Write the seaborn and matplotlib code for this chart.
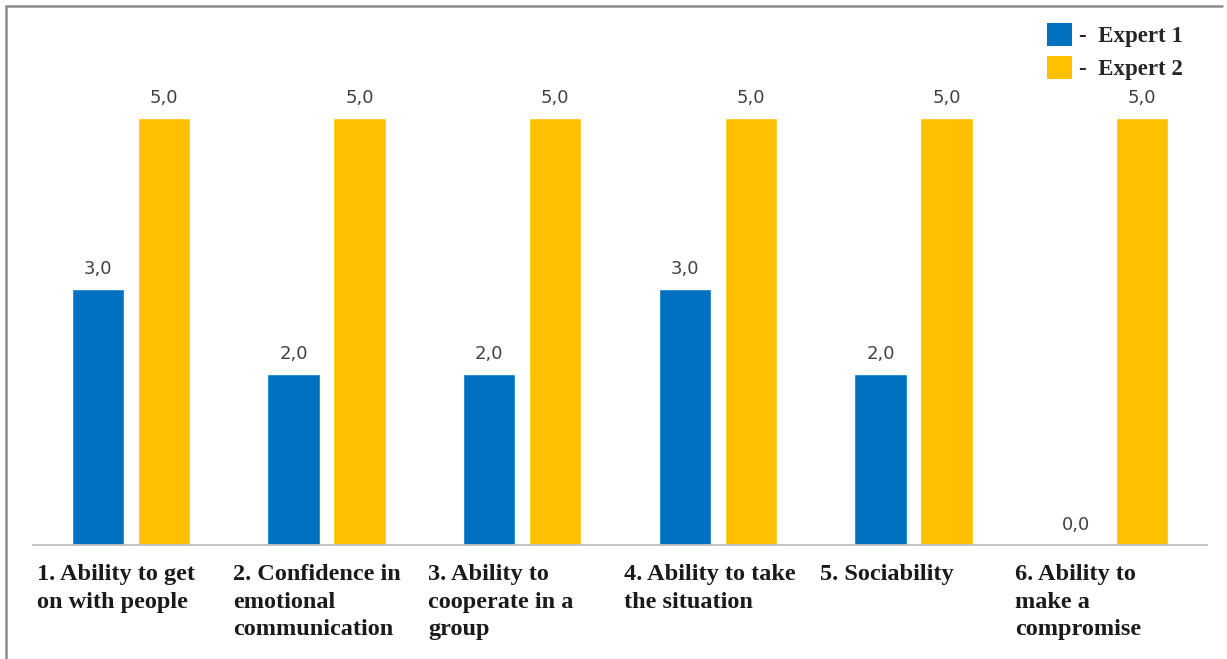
import pandas as pd
import matplotlib.pyplot as plt
from matplotlib.patches import Patch
from matplotlib.lines import Line2D
import seaborn as sns

sns.set_style("white")

# data
categories = ["1. Ability to get\non with people",
              "2. Confidence in\nemotional\ncommunication",
              "3. Ability to\ncooperate in a\ngroup",
              "4. Ability to take\nthe situation",
              "5. Sociability",
              "6. Ability to\nmake a\ncompromise"]
expert1 = [3.0, 2.0, 2.0, 3.0, 2.0, 0.0]
expert2 = [5.0, 5.0, 5.0, 5.0, 5.0, 5.0]
series_names = ["Expert 1", "Expert 2"]
colors = {"Expert 1": "#0070C0", "Expert 2": "#FFC000"}

df = pd.DataFrame({
    "category": categories * 2,
    "expert": [series_names[0]] * len(categories) + [series_names[1]] * len(categories),
    "score": expert1 + expert2,
})

W, H = 1227, 659
fig = plt.figure(figsize=(W / 100, H / 100), dpi=100)
ax = fig.add_axes([33 / W, 114 / H, 1174 / W, 512.4 / H])

sns.barplot(data=df, x="category", y="score", hue="expert", palette=colors,
            width=0.674, gap=0.21, legend=False, ax=ax, saturation=1)

ax.set_ylim(0, 6)
ax.set_xlim(-0.5, len(categories) - 0.5)

# value labels with comma decimals
for cont, vals in zip(ax.containers, [expert1, expert2]):
    ax.bar_label(cont, labels=[f"{v:.1f}".replace(".", ",") for v in vals],
                 padding=8, fontsize=13, color="#404040", family="DejaVu Sans")

# category labels, left aligned under each slot
ax.set_xticks([])
ax.set_yticks([])
ax.set_xlabel("")
ax.set_ylabel("")
for i, lab in enumerate(categories):
    ax.annotate(lab, xy=(i - 0.5, 0), xycoords=("data", "axes fraction"),
                xytext=(3, -14), textcoords="offset points", ha="left", va="top",
                fontsize=17.5, fontweight="bold", family="Liberation Serif",
                color="#1a1a1a", linespacing=1.4, annotation_clip=False)

for s in ["top", "left", "right"]:
    ax.spines[s].set_visible(False)
ax.spines["bottom"].set_color("#bfbfbf")
ax.spines["bottom"].set_linewidth(1.3)

# legend top right
handles = [Patch(facecolor=colors[n], edgecolor="none") for n in series_names]
ax.legend(handles, ["-  " + n for n in series_names], loc="upper left",
          bbox_to_anchor=(1047 / W, 1 - 23 / H), bbox_transform=fig.transFigure,
          frameon=False, prop={"family": "Liberation Serif", "weight": "bold", "size": 16.5},
          handlelength=1.1, handleheight=1.15, handletextpad=0.3, labelspacing=0.4,
          borderpad=0, borderaxespad=0)

# grey frame on the top and left edges of the picture
fig.add_artist(Line2D([6 / W, 1222 / W], [1 - 6 / H, 1 - 6 / H], color="#8c8c8c", lw=1.8))
fig.add_artist(Line2D([6 / W, 6 / W], [0, 1 - 6 / H], color="#8c8c8c", lw=1.8))

fig.savefig("out.png", dpi=100)
